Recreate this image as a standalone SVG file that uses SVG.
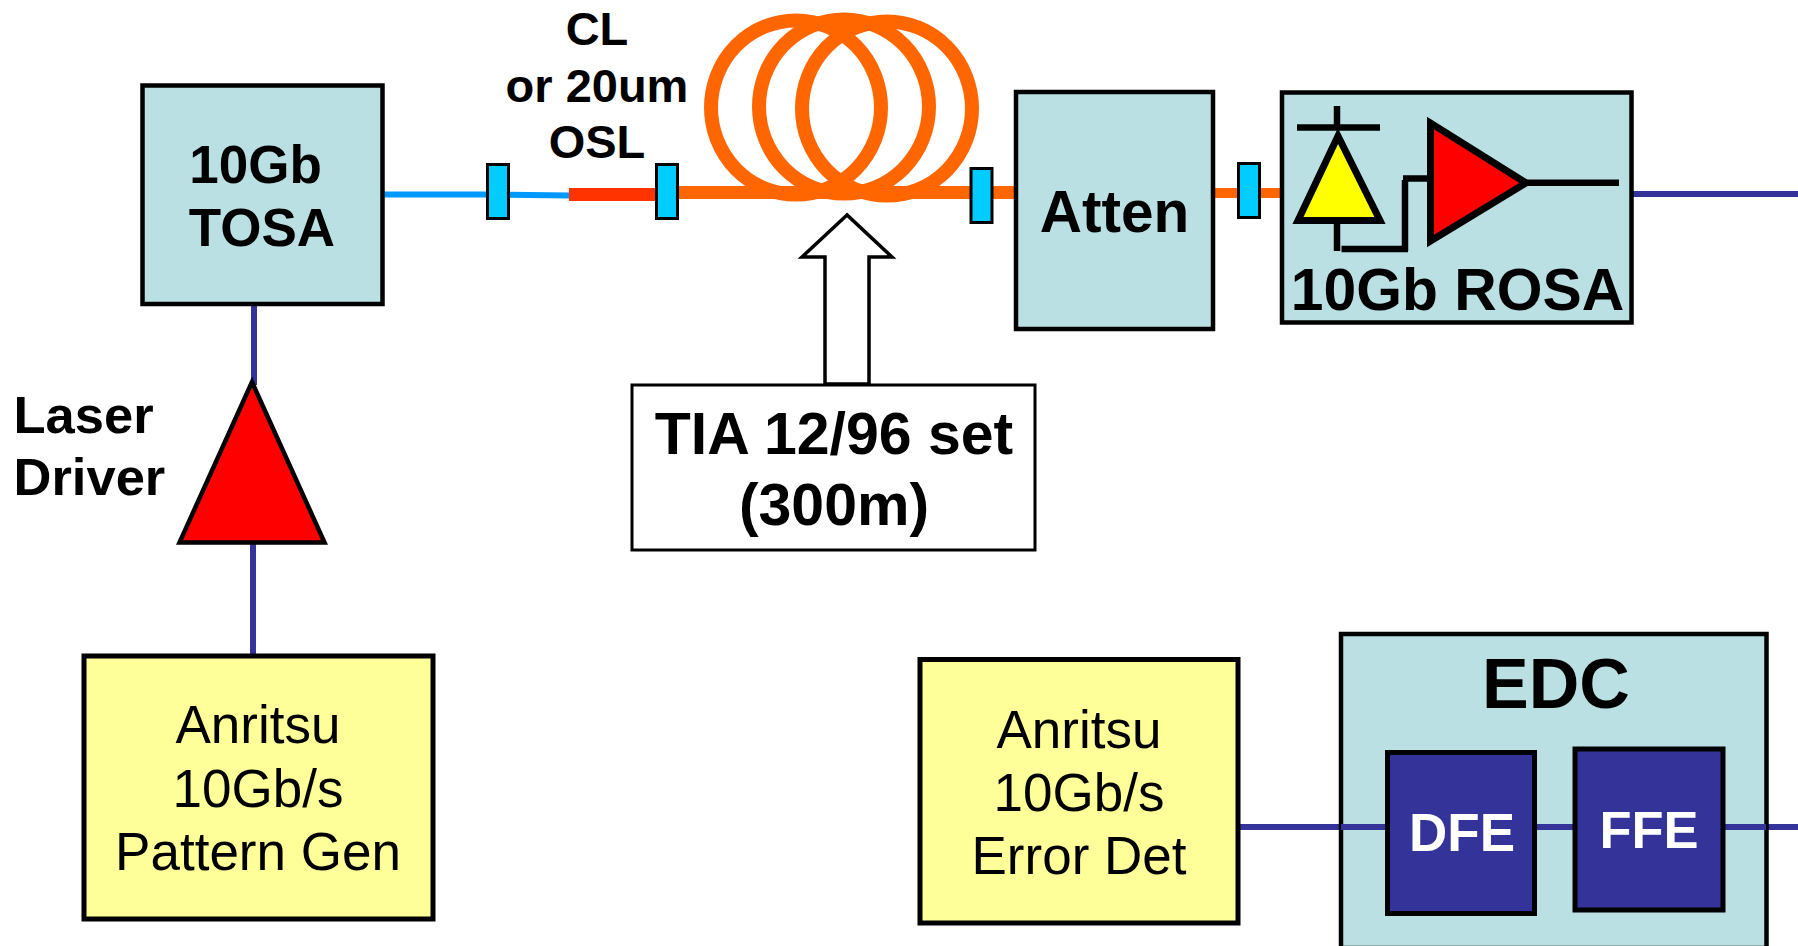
<svg xmlns="http://www.w3.org/2000/svg" width="1798" height="946" viewBox="0 0 1798 946">
<style>
text{font-family:"Liberation Sans",Arial,sans-serif;fill:#000;text-anchor:middle}
.b{font-weight:bold}
.box{fill:#BAE0E3;stroke:#000;stroke-width:4.5}
.gen{fill:#FFFF99;stroke:#000;stroke-width:5}
.eq{fill:#333399;stroke:#000;stroke-width:5}
.con{fill:#00CCFF;stroke:#000;stroke-width:3}
.sig{fill:none;stroke:#333399;stroke-width:6}
.coil{fill:none;stroke:#FF6600;stroke-width:14}
.k{fill:none;stroke:#000;stroke-width:6.5}
</style>
<rect width="1798" height="946" fill="#fff"/>
<g id="connectors">
<path class="sig" d="M254 304V385"/>
<path class="sig" d="M253 544V656"/>
<path class="sig" d="M1633 194H1798"/>
<path class="sig" d="M1240 827H1798"/>
<path d="M384 194.500H487L570 195.500" fill="none" stroke="#0099FF" stroke-width="6"/>
<path d="M569 194.500H657" fill="none" stroke="#FF3300" stroke-width="13"/>
<path d="M677 192.500H1016" fill="none" stroke="#FF6600" stroke-width="13"/>
<path d="M1212 193H1282" fill="none" stroke="#FF6600" stroke-width="10"/>
</g>
<g id="coil">
<ellipse class="coil" cx="796" cy="107.500" rx="85" ry="87"/>
<ellipse class="coil" cx="844" cy="106.500" rx="85" ry="87"/>
<ellipse class="coil" cx="887" cy="108.500" rx="85" ry="87"/>
</g>
<g id="conn1"><rect class="con" x="487.500" y="164.500" width="21" height="54"/></g>
<g id="conn2"><rect class="con" x="656.500" y="164.500" width="21" height="54"/></g>
<g id="conn3"><rect class="con" x="971" y="168.500" width="21" height="54"/></g>
<g id="conn4"><rect class="con" x="1238.500" y="163.500" width="21" height="54"/></g>
<g id="tosa"><rect class="box" x="142.500" y="85.500" width="240" height="218.500"/>
<text class="b" x="255.500" y="183" font-size="53">10Gb</text><text class="b" x="262" y="246" font-size="53">TOSA</text></g>
<g id="driver"><polygon points="252,382 179.500,542.500 324.500,542.500" fill="#FF0000" stroke="#000" stroke-width="4.500"/>
<text class="b" x="13.500" y="433" font-size="52.500" style="text-anchor:start">Laser</text><text class="b" x="13.500" y="495" font-size="52.500" style="text-anchor:start">Driver</text></g>
<g id="pattern-gen"><rect class="gen" x="84" y="656" width="349" height="263"/>
<text x="258" y="743" font-size="53">Anritsu</text><text x="258" y="806.500" font-size="53">10Gb/s</text><text x="258" y="869.500" font-size="53">Pattern Gen</text></g>
<g id="cl-label"><text class="b" x="597" y="45" font-size="47">CL</text><text class="b" x="597" y="102" font-size="47">or 20um</text><text class="b" x="597" y="158" font-size="47">OSL</text></g>
<g id="arrow"><polygon points="847,215 802,257 825,257 825,384 869,384 869,257 892,257" fill="#fff" stroke="#000" stroke-width="3.500"/></g>
<g id="tia"><rect x="632" y="385" width="403" height="165" fill="#fff" stroke="#000" stroke-width="3"/>
<text class="b" x="834" y="454" font-size="59">TIA 12/96 set</text><text class="b" x="834" y="525" font-size="59">(300m)</text></g>
<g id="atten"><rect class="box" x="1016" y="92" width="197" height="237"/><text class="b" x="1114.500" y="232" font-size="58.500">Atten</text></g>
<g id="rosa"><rect class="box" x="1282" y="92.500" width="349.500" height="230"/>
<polygon points="1338,136 1298,220.500 1380,220.500" fill="#FFFF00" stroke="#000" stroke-width="7"/>
<path class="k" d="M1337 106V130M1297 127.500H1380M1337 222V251M1341.500 249H1408M1405 251V180M1403 178.500H1430"/>
<polygon points="1430.500,123 1430.500,241 1526,183" fill="#FF0000" stroke="#000" stroke-width="7"/>
<path class="k" d="M1525 182.700H1619"/>
<text class="b" x="1457.500" y="309.500" font-size="58.800">10Gb ROSA</text></g>
<g id="error-det"><rect class="gen" x="920" y="659.500" width="318" height="263.500"/>
<text x="1079" y="748" font-size="53">Anritsu</text><text x="1079" y="811" font-size="53">10Gb/s</text><text x="1079" y="874" font-size="53">Error Det</text></g>
<g id="edc"><rect class="box" x="1341" y="634" width="425.500" height="314"/><path class="sig" d="M1341 827H1766"/><text class="b" x="1556" y="707.500" font-size="70">EDC</text></g>
<g id="dfe"><rect class="eq" x="1387.500" y="752.500" width="147" height="161"/><text class="b" x="1462" y="851" font-size="53" style="fill:#fff">DFE</text></g>
<g id="ffe"><rect class="eq" x="1575" y="749" width="148" height="161"/><text class="b" x="1649" y="847.500" font-size="52.500" style="fill:#fff">FFE</text></g>
</svg>
